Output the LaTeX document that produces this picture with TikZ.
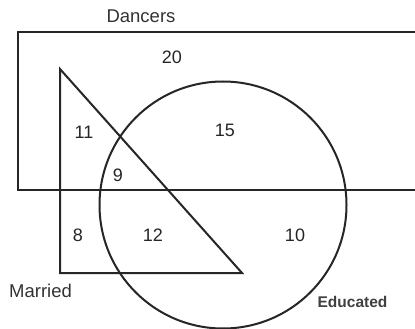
\documentclass[tikz,border=0pt]{standalone}
\usepackage{fontspec}
\setmainfont{Liberation Sans}
\begin{document}
\begin{tikzpicture}[x=1pt,y=-1pt,
  shapeline/.style={line width=2pt,draw=black!85},
  lbl/.style={font=\fontsize{18.5}{20}\selectfont,text=black!80,inner sep=0pt},
  num/.style={font=\fontsize{18}{20}\selectfont,text=black!85,inner sep=0pt},
  edlbl/.style={font=\fontsize{15.5}{18}\selectfont\bfseries,text=black!75,inner sep=0pt}]
\useasboundingbox (0,0) rectangle (415,329);
\fill[white] (0,0) rectangle (415,329);
% Dancers rectangle (open on the right, runs off the picture)
\draw[shapeline] (420,32) -| (18,190) -- (420,190);
% Married triangle
\coordinate (t1) at (60,69);
\coordinate (t2) at (60,273);
\coordinate (t3) at (242,273);
\draw[shapeline,line join=miter] (t1) -- (t2) -- (t3) -- cycle;
% Educated circle
\coordinate (cc) at (223,205);
\draw[shapeline] (cc) circle[radius=123.5];
% labels
\node[lbl] (dancers) at (141,16) {Dancers};
\node[lbl] (married) at (40.5,291) {Married};
\node[edlbl] (educated) at (352.5,302) {Educated};
% numbers
\node[num] (n20) at (172,57) {20};
\node[num] (n11) at (84,132) {11};
\node[num] (n15) at (225,130) {15};
\node[num] (n9) at (118,175) {9};
\node[num] (n8) at (78,235) {8};
\node[num] (n12) at (153,235) {12};
\node[num] (n10) at (295,235) {10};
\end{tikzpicture}
\end{document}
